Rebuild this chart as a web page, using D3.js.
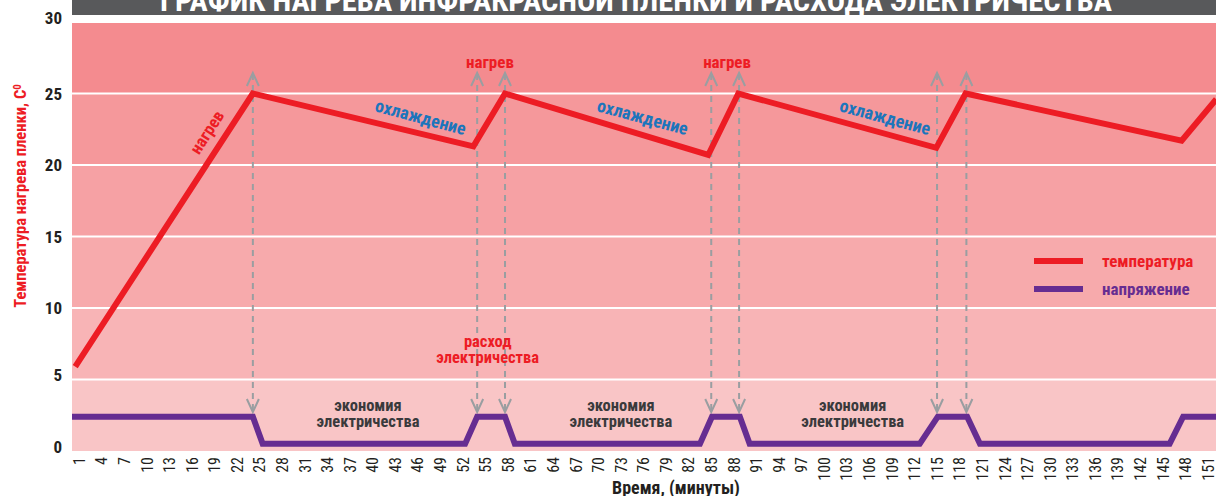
<!DOCTYPE html>
<html><head><meta charset="utf-8">
<script src="https://cdn.jsdelivr.net/npm/d3@7"></script>
<style>
html,body{margin:0;padding:0;background:#fff;}
svg{display:block;}
text{font-family:"Liberation Sans Narrow","Roboto Condensed","DejaVu Sans Condensed","Liberation Sans",sans-serif;}
</style></head><body>
<div id="chart"></div>
<script>
// ---- data ----
const xTickLabels = [1,4,7,10,13,16,19,22,25,28,31,34,37,40,43,46,49,52,55,58,61,64,67,70,73,76,79,82,85,88,91,94,97,100,103,106,109,112,115,118,121,124,127,130,133,136,139,142,145,148,151];
const yTickLabels = [0,5,10,15,20,25,30];
const tempTime  = [0.5, 24.1, 53.4, 57.6, 84.6, 88.6, 114.9, 118.8, 147.5, 152.1];
const tempValue = [5.9, 25, 21.3, 25, 20.7, 25, 21.2, 25, 21.7, 24.6];
const voltTime  = [0, 24.1, 25.4, 52.3, 53.9, 57.6, 58.9, 83.5, 85.1, 88.8, 90.1, 112.7, 115.1, 119.0, 120.7, 145.9, 147.7, 152.5];
const voltValue = [2.4, 2.4, 0.5, 0.5, 2.4, 2.4, 0.5, 0.5, 2.4, 2.4, 0.5, 0.5, 2.4, 2.4, 0.5, 0.5, 2.4, 2.4];
const arrowTimes = [24.1, 53.9, 57.6, 85.0, 88.7, 115.0, 118.9];
const coolingTimes = [46.4, 75.9, 108.1];
const heatTopTimes = [55.6, 87.1];
const savingTimes = [39.4, 73.0, 103.8];
const bandColors = ["#F9C5C6","#F8B4B6","#F7AAAC","#F6A1A4","#F5989B","#F48B8F"];
const title = "ГРАФИК НАГРЕВА ИНФРАКРАСНОЙ ПЛЕНКИ И РАСХОДА ЭЛЕКТРИЧЕСТВА";

const W = 1216, H = 496;
const L = 72, R = 1216, T = 22, B = 451;
const svg = d3.select("#chart").append("svg").attr("width",W).attr("height",H);

const x = d3.scaleLinear().domain([1,151]).range([79,1208]);
const y = d3.scaleLinear().domain([0,30]).range([B,T]);

// title bar
svg.append("rect").attr("x",L).attr("y",0).attr("width",R-L).attr("height",15).attr("fill","#58595B");
svg.append("text").attr("x",636).attr("y",11).attr("text-anchor","middle")
  .attr("fill","#fff").attr("font-weight","bold").attr("font-size",30)
  .attr("textLength",952).attr("lengthAdjust","spacingAndGlyphs").text(title);

// bands
const bands = d3.range(6);
svg.selectAll("rect.band").data(bands).join("rect").attr("class","band")
  .attr("x",L).attr("width",R-L)
  .attr("y",i=>y((i+1)*5)).attr("height",i=>y(i*5)-y((i+1)*5))
  .attr("fill",i=>bandColors[i]);
svg.selectAll("line.grid").data([5,10,15,20,25,30]).join("line").attr("class","grid")
  .attr("x1",L).attr("x2",R).attr("y1",d=>y(d)).attr("y2",d=>y(d))
  .attr("stroke","#fff").attr("stroke-width",2);

// y labels
svg.selectAll("text.yl").data(yTickLabels).join("text").attr("class","yl")
  .attr("x",62).attr("y",d=>y(d)+ (d===30? -4 : d===0? -4 : d===5? -5 : 0)).attr("dy","0.36em")
  .attr("text-anchor","end").attr("font-family","Liberation Sans, Arial, sans-serif")
  .attr("font-weight","bold").attr("font-size",17).attr("fill","#231F20").text(d=>d);

// y title
svg.append("text").attr("transform","translate(26,196) rotate(-90)")
  .attr("text-anchor","middle").attr("fill","#ED1C24").attr("font-weight","bold").attr("font-size",16.5)
  .html('Температура нагрева пленки, С<tspan dy="-5" font-size="11">0</tspan>');

// x labels
svg.selectAll("text.xl").data(xTickLabels).join("text").attr("class","xl")
  .attr("transform",d=>`translate(${x(d)},457) rotate(-90)`)
  .attr("text-anchor","end").attr("dy","0.36em")
  .attr("font-size",16).attr("fill","#231F20").text(d=>d);

svg.append("text").attr("x",676).attr("y",494).attr("text-anchor","middle")
  .attr("font-weight","bold").attr("font-size",18).attr("fill","#231F20").text("Время, (минуты)");

// clip
svg.append("clipPath").attr("id","clip").append("rect").attr("x",L).attr("y",T-10).attr("width",R-L).attr("height",B-T+10);
const g = svg.append("g").attr("clip-path","url(#clip)");

// dashed arrows
const arrowG = g.selectAll("g.arr").data(arrowTimes).join("g").attr("class","arr");
arrowG.append("line").attr("x1",d=>x(d)).attr("x2",d=>x(d)).attr("y1",74).attr("y2",410)
  .attr("stroke","#9A9EA1").attr("stroke-width",2).attr("stroke-dasharray","6,5");
arrowG.append("path").attr("d",d=>`M${x(d)-6},${86} L${x(d)},${73} L${x(d)+6},${86}`)
  .attr("fill","none").attr("stroke","#9A9EA1").attr("stroke-width",2);
arrowG.append("path").attr("d",d=>`M${x(d)-6},${399} L${x(d)},${412} L${x(d)+6},${399}`)
  .attr("fill","none").attr("stroke","#9A9EA1").attr("stroke-width",2);

// lines
const line = d3.line().x(d=>x(d[0])).y(d=>y(d[1]));
g.append("path").datum(voltTime.map((t,i)=>[t,voltValue[i]])).attr("d",line)
  .attr("fill","none").attr("stroke","#662D91").attr("stroke-width",6).attr("stroke-linejoin","miter");
g.append("path").datum(tempTime.map((t,i)=>[t,tempValue[i]])).attr("d",line)
  .attr("fill","none").attr("stroke","#ED1C24").attr("stroke-width",6).attr("stroke-linejoin","miter");

// annotations
const annFont = 17;
svg.append("text").attr("transform",`translate(${x(18.0)},${y(22.3)}) rotate(-57)`)
  .attr("text-anchor","middle").attr("dy","0.35em").attr("fill","#ED1C24").attr("font-weight","bold")
  .attr("font-size",annFont).text("нагрев");
svg.selectAll("text.cool").data(coolingTimes).join("text").attr("class","cool")
  .attr("transform",d=>`translate(${x(d)},${y(23.35)}) rotate(15)`)
  .attr("text-anchor","middle").attr("dy","0.35em").attr("fill","#1C75BC").attr("font-weight","bold")
  .attr("font-size",18).text("охлаждение");
svg.selectAll("text.heat").data(heatTopTimes).join("text").attr("class","heat")
  .attr("x",d=>x(d)).attr("y",y(27.2)).attr("dy","0.35em").attr("text-anchor","middle")
  .attr("fill","#ED1C24").attr("font-weight","bold").attr("font-size",annFont).text("нагрев");
const rs = svg.append("text").attr("text-anchor","middle").attr("fill","#ED1C24").attr("font-weight","bold").attr("font-size",16.5);
rs.append("tspan").attr("x",x(55.3)).attr("y",347).text("расход");
rs.append("tspan").attr("x",x(55.3)).attr("y",363).text("электричества");
const sv = svg.selectAll("text.save").data(savingTimes).join("text").attr("class","save")
  .attr("text-anchor","middle").attr("fill","#3A3A3C").attr("font-weight","bold").attr("font-size",16.5);
sv.append("tspan").attr("x",d=>x(d)).attr("y",411).text("экономия");
sv.append("tspan").attr("x",d=>x(d)).attr("y",427).text("электричества");

// legend
const leg = [["температура","#ED1C24"],["напряжение","#662D91"]];
const lg = svg.selectAll("g.leg").data(leg).join("g").attr("class","leg")
  .attr("transform",(d,i)=>`translate(1034,${261+i*28})`);
lg.append("line").attr("x1",0).attr("x2",49).attr("stroke",d=>d[1]).attr("stroke-width",6);
lg.append("text").attr("x",68).attr("dy","0.35em").attr("fill",d=>d[1]).attr("font-weight","bold")
  .attr("font-size",17).text(d=>d[0]);
</script>
</body></html>
